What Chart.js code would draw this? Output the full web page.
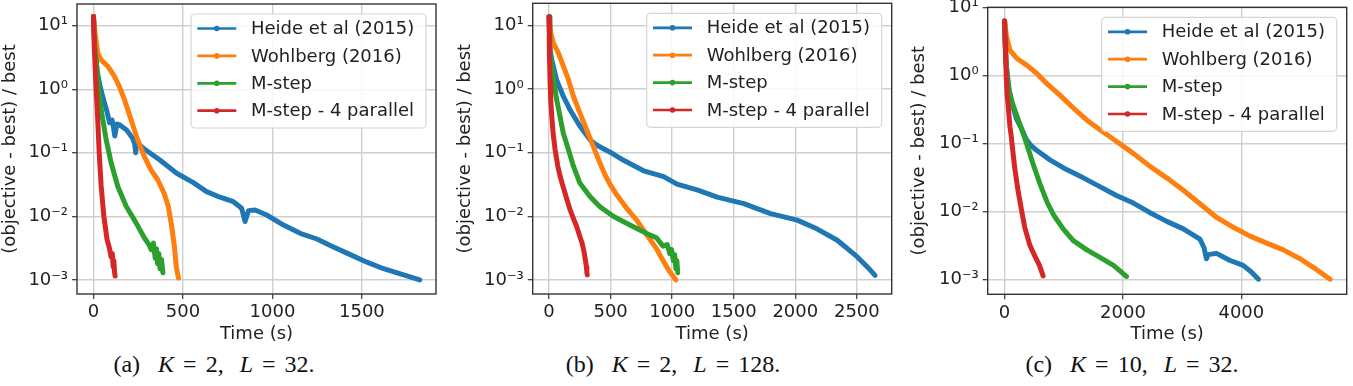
<!DOCTYPE html>
<html><head><meta charset="utf-8">
<script src="https://cdn.jsdelivr.net/npm/chart.js@4.4.0/dist/chart.umd.min.js"></script>
<style>
html,body{margin:0;padding:0;background:#fff;width:1353px;height:386px;overflow:hidden;position:relative;}
.panel{position:absolute;top:0;}
.panel canvas{display:block;}
.cap{position:absolute;top:350px;font-family:'Liberation Serif',serif;font-size:24px;color:#111;white-space:nowrap;transform:translateX(-50%);line-height:28px;}
.cap .g{display:inline-block;width:18px;}
.cap .g2{display:inline-block;width:16px;}
.cap .eq{margin:0 9px;}
</style></head><body>
<div class="panel" style="left:0px;width:450px;height:345px"><canvas id="ca" width="450" height="345"></canvas></div>
<div class="panel" style="left:455px;width:450px;height:345px"><canvas id="cb" width="450" height="345"></canvas></div>
<div class="panel" style="left:909px;width:444px;height:345px"><canvas id="cc" width="444" height="345"></canvas></div>
<div class="cap" style="left:214px">(a)<span class="g"></span><i>K</i><span class="eq">=</span>2,<span class="g2"></span><i>L</i><span class="eq">=</span>32.</div>
<div class="cap" style="left:673px">(b)<span class="g"></span><i>K</i><span class="eq">=</span>2,<span class="g2"></span><i>L</i><span class="eq">=</span>128.</div>
<div class="cap" style="left:1132px">(c)<span class="g"></span><i>K</i><span class="eq">=</span>10,<span class="g2"></span><i>L</i><span class="eq">=</span>32.</div>
<script>
// ---- series names / colours ----
const seriesNames = ['Heide et al (2015)', 'Wohlberg (2016)', 'M-step', 'M-step - 4 parallel'];
const seriesColors = ['#1f77b4', '#ff7f0e', '#2ca02c', '#d62728'];

// ---- tick labels ----
const yTickVals = [1e-3, 1e-2, 1e-1, 1, 10];
const yTickLabels = ['10\u207B\u00B3', '10\u207B\u00B2', '10\u207B\u00B9', '10\u2070', '10\u00B9'];
const xTicksA = [0, 500, 1000, 1500];
const xTicksB = [0, 500, 1000, 1500, 2000, 2500];
const xTicksC = [0, 2000, 4000];

// ---- panel (a) K=2, L=32 ----
const aHeideT = [0, 8, 20, 35, 54, 75, 90, 97, 104, 112, 119, 126, 132, 147, 185, 218, 230, 236, 242, 250, 284, 371, 465, 558, 632, 707, 782, 828, 847, 866, 903, 968, 1062, 1155, 1248, 1341, 1435, 1528, 1621, 1715, 1823];
const aHeideV = [14, 5, 2.0, 1.17, 0.72, 0.45, 0.298, 0.32, 0.328, 0.25, 0.184, 0.24, 0.284, 0.274, 0.229, 0.17, 0.14, 0.1, 0.14, 0.138, 0.115, 0.077, 0.0477, 0.034, 0.0245, 0.02, 0.017, 0.0134, 0.0083, 0.0123, 0.0126, 0.0105, 0.0073, 0.0054, 0.0044, 0.0033, 0.0025, 0.0019, 0.0015, 0.00124, 0.001];
const aWohlT = [0, 9, 24, 43, 80, 117, 145, 173, 210, 247, 284, 321, 358, 395, 418, 437, 452, 463, 475];
const aWohlV = [14, 7.6, 3.7, 2.9, 2.3, 1.6, 1.1, 0.69, 0.33, 0.16, 0.088, 0.054, 0.038, 0.023, 0.0144, 0.007, 0.0034, 0.0016, 0.00107];
const aMstepT = [0, 6, 15, 28, 46, 71, 99, 136, 182, 238, 284, 310, 322, 335, 345, 352, 358, 365, 372, 380, 388];
const aMstepV = [14, 5, 2.9, 1.1, 0.42, 0.16, 0.069, 0.0295, 0.0145, 0.0079, 0.0046, 0.0036, 0.003, 0.0038, 0.0022, 0.0031, 0.0018, 0.0026, 0.0015, 0.0021, 0.0013];
const aParT = [0, 5, 15, 24, 32, 43, 58, 76, 90, 98, 105, 110, 114, 118, 121];
const aParV = [14, 4.2, 1.0, 0.33, 0.1, 0.03, 0.01, 0.0043, 0.0031, 0.0023, 0.0026, 0.0016, 0.002, 0.0013, 0.00115];

// ---- panel (b) K=2, L=128 ----
const bHeideT = [0, 5, 10, 22, 62, 117, 171, 252, 334, 380, 415, 496, 605, 768, 931, 1039, 1202, 1365, 1582, 1799, 2016, 2179, 2341, 2504, 2585, 2648];
const bHeideV = [13.8, 6.3, 4.0, 2.9, 1.38, 0.76, 0.47, 0.26, 0.158, 0.135, 0.123, 0.102, 0.076, 0.052, 0.042, 0.032, 0.026, 0.02, 0.0158, 0.011, 0.0087, 0.0063, 0.0042, 0.0023, 0.0016, 0.00118];
const bWohlT = [0, 14, 35, 76, 116, 157, 197, 251, 305, 359, 413, 454, 494, 548, 629, 710, 791, 872, 940, 979, 1030];
const bWohlV = [13.8, 7.7, 5.3, 3.7, 2.3, 1.41, 0.78, 0.42, 0.23, 0.126, 0.069, 0.045, 0.032, 0.022, 0.0135, 0.0088, 0.0052, 0.0031, 0.0018, 0.00135, 0.001];
const bMstepT = [0, 6, 12, 22, 40, 62, 89, 116, 157, 197, 251, 332, 413, 521, 629, 737, 818, 872, 926, 960, 980, 995, 1010, 1020, 1030, 1038, 1045];
const bMstepV = [13.8, 4.5, 3.0, 2.3, 1.25, 0.68, 0.37, 0.2, 0.112, 0.062, 0.033, 0.0205, 0.0141, 0.01, 0.0078, 0.0061, 0.0051, 0.0046, 0.0034, 0.0036, 0.0026, 0.003, 0.002, 0.0025, 0.0015, 0.002, 0.0013];
const bParT = [0, 2, 4, 8, 14, 22, 33, 49, 70, 89, 110, 130, 150, 171, 195, 224, 250, 268, 285, 296, 303, 307, 310];
const bParV = [13.8, 8, 3.5, 1.25, 0.65, 0.37, 0.2, 0.112, 0.063, 0.043, 0.031, 0.023, 0.017, 0.0126, 0.0095, 0.0069, 0.0048, 0.0038, 0.0027, 0.002, 0.0016, 0.0013, 0.0012];

// ---- panel (c) K=10, L=32 ----
const cHeideT = [0, 12, 34, 90, 200, 300, 372, 450, 541, 766, 1048, 1330, 1610, 1890, 2175, 2450, 2740, 3020, 3300, 3370, 3410, 3440, 3580, 3800, 4030, 4160, 4290];
const cHeideV = [6.3, 2.8, 1.3, 0.49, 0.23, 0.155, 0.112, 0.092, 0.079, 0.057, 0.041, 0.031, 0.023, 0.017, 0.0132, 0.0096, 0.0071, 0.0055, 0.0039, 0.0029, 0.002, 0.0023, 0.0024, 0.0019, 0.0016, 0.0013, 0.001];
const cWohlT = [0, 34, 90, 203, 372, 541, 710, 935, 1161, 1386, 1611, 1893, 2175, 2456, 2738, 3020, 3301, 3583, 3865, 4147, 4428, 4710, 4992, 5273, 5499];
const cWohlV = [6.3, 3.7, 2.35, 1.78, 1.41, 1.07, 0.76, 0.51, 0.33, 0.22, 0.158, 0.106, 0.071, 0.046, 0.031, 0.0204, 0.0129, 0.0081, 0.0058, 0.0043, 0.0034, 0.0027, 0.002, 0.00138, 0.001];
const cMstepT = [0, 12, 30, 62, 140, 260, 370, 480, 600, 720, 840, 990, 1160, 1390, 1610, 1840, 1960, 2030, 2060];
const cMstepV = [6.3, 2.8, 1.3, 0.68, 0.37, 0.19, 0.1, 0.05, 0.025, 0.0135, 0.0085, 0.0055, 0.0037, 0.0027, 0.0021, 0.0016, 0.0013, 0.00115, 0.0011];
const cParT = [0, 8, 18, 30, 45, 62, 90, 113, 140, 172, 228, 285, 341, 425, 510, 589, 651];
const cParV = [6.3, 3.55, 1.78, 0.89, 0.5, 0.35, 0.178, 0.126, 0.076, 0.043, 0.02, 0.0105, 0.0058, 0.0032, 0.0022, 0.0016, 0.00112];

const FONT = '"DejaVu Sans", sans-serif';
const FS = 18;
const TXT = '#222';

function pts(T, V) { return T.map((t, i) => ({ x: t, y: V[i] })); }

const framePlugin = {
  id: 'frame',
  afterDatasetsDraw(chart) {
    const { ctx, chartArea: a } = chart;
    ctx.save();
    ctx.strokeStyle = '#333';
    ctx.lineWidth = 1.4;
    ctx.strokeRect(a.left, a.top, a.right - a.left, a.bottom - a.top);
    ctx.restore();
  }
};

const legendPlugin = {
  id: 'mplLegend',
  afterDraw(chart) {
    const { ctx, chartArea: a } = chart;
    const w = 235, h = 114;
    const x0 = a.right - 10 - w, y0 = a.top + 10;
    ctx.save();
    ctx.beginPath();
    ctx.roundRect(x0, y0, w, h, 4);
    ctx.fillStyle = 'rgba(255,255,255,0.85)';
    ctx.fill();
    ctx.strokeStyle = '#d6d6d6';
    ctx.lineWidth = 1.2;
    ctx.stroke();
    ctx.font = FS + 'px ' + FONT;
    ctx.textBaseline = 'middle';
    ctx.textAlign = 'left';
    chart.data.datasets.forEach((ds, i) => {
      const y = y0 + 14.5 + i * 27.4;
      ctx.strokeStyle = ds.borderColor;
      ctx.lineWidth = 2.7;
      ctx.lineCap = 'butt';
      ctx.beginPath();
      ctx.moveTo(x0 + 6.3, y);
      ctx.lineTo(x0 + 45.3, y);
      ctx.stroke();
      ctx.fillStyle = ds.borderColor;
      ctx.beginPath();
      ctx.arc(x0 + 25.8, y, 2.8, 0, Math.PI * 2);
      ctx.fill();
      ctx.fillStyle = TXT;
      ctx.fillText(ds.label, x0 + 60, y + 1);
    });
    ctx.restore();
  }
};

function makeChart(id, series, xTicks, xMin, xMax, yMin, yMax, yW, pad, xH) {
  const datasets = series.map((s, i) => ({
    label: seriesNames[i],
    data: pts(s[0], s[1]),
    borderColor: seriesColors[i],
    backgroundColor: seriesColors[i],
    borderWidth: 5,
    pointRadius: 0,
    pointHoverRadius: 0,
    fill: false,
    tension: 0,
    borderJoinStyle: 'round',
    borderCapStyle: 'round',
    order: 3 - i
  }));
  return new Chart(document.getElementById(id), {
    type: 'line',
    data: { datasets },
    options: {
      responsive: false,
      animation: false,
      devicePixelRatio: 1,
      layout: { autoPadding: false, padding: pad },
      plugins: { legend: { display: false }, tooltip: { enabled: false } },
      scales: {
        x: {
          type: 'linear', min: xMin, max: xMax,
          afterBuildTicks(scale) { scale.ticks = xTicks.map(v => ({ value: v })); },
          afterFit(scale) { scale.height = xH; scale.paddingLeft = 0; scale.paddingRight = 0; },
          ticks: { autoSkip: false, maxRotation: 0, padding: 3, color: TXT, font: { family: FONT, size: FS }, callback: v => String(v) },
          grid: { color: '#cfcfcf', lineWidth: 1.4, tickLength: 5, tickColor: '#333', tickWidth: 1.2 },
          border: { display: false },
          title: { display: true, text: 'Time (s)', color: TXT, font: { family: FONT, size: FS }, padding: 0 }
        },
        y: {
          type: 'logarithmic', min: yMin, max: yMax,
          afterBuildTicks(scale) { scale.ticks = yTickVals.filter(v => v >= yMin * 0.999 && v <= yMax * 1.001).map(v => ({ value: v })); },
          afterFit(scale) { scale.width = yW; scale.paddingTop = 0; scale.paddingBottom = 0; },
          ticks: {
            autoSkip: false, padding: 4, color: TXT, font: { family: FONT, size: FS },
            callback: v => { const k = yTickVals.findIndex(t => Math.abs(t - v) < t * 1e-6); return k >= 0 ? yTickLabels[k] : ''; }
          },
          grid: { color: '#cfcfcf', lineWidth: 1.4, tickLength: 5, tickColor: '#333', tickWidth: 1.2 },
          border: { display: false },
          title: { display: true, text: '(objective - best) / best', color: TXT, font: { family: FONT, size: FS }, padding: 0 }
        }
      }
    },
    plugins: [framePlugin, legendPlugin]
  });
}

makeChart('ca',
  [[aHeideT, aHeideV], [aWohlT, aWohlV], [aMstepT, aMstepV], [aParT, aParV]],
  xTicksA, -92, 1914, Math.pow(10, -3.2045), Math.pow(10, 1.341), 77,
  { top: 4, right: 14, bottom: 0, left: 0 }, 51);

makeChart('cb',
  [[bHeideT, bHeideV], [bWohlT, bWohlV], [bMstepT, bMstepV], [bParT, bParV]],
  xTicksB, -133, 2783, Math.pow(10, -3.21), Math.pow(10, 1.35), 77.7,
  { top: 3.3, right: 13.3, bottom: 0, left: 0 }, 51);

makeChart('cc',
  [[cHeideT, cHeideV], [cWohlT, cWohlV], [cMstepT, cMstepV], [cParT, cParV]],
  xTicksC, -285, 5780, Math.pow(10, -3.206), 10, 78.7,
  { top: 7.3, right: 6.3, bottom: 0, left: 0 }, 50.7);
</script>
</body></html>
